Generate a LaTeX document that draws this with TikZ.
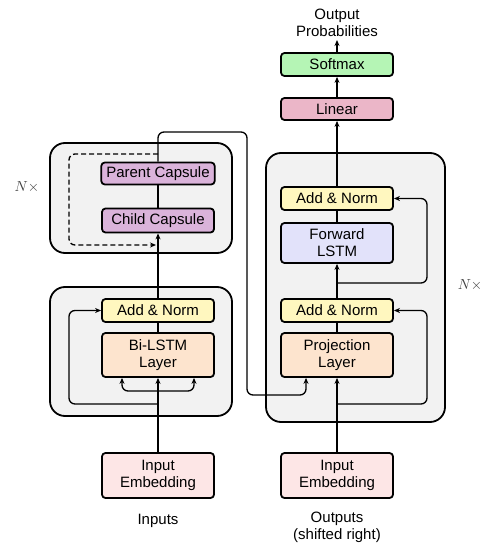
\documentclass[tikz,border=0pt]{standalone}
\usepackage{fontspec}
\setmainfont{Liberation Sans}
\usetikzlibrary{arrows.meta,calc}
\definecolor{blkgray}{HTML}{F2F2F2}
\definecolor{addcol}{HTML}{FFF7BF}
\definecolor{peach}{HTML}{FDE4CE}
\definecolor{lav}{HTML}{E2E2FA}
\definecolor{capcol}{HTML}{DAB3DA}
\definecolor{lincol}{HTML}{EBB6C8}
\definecolor{softcol}{HTML}{B5F5B5}
\definecolor{embcol}{HTML}{FDE6E6}
\tikzset{
  blk/.style={draw=black, line width=1.8pt, fill=blkgray, rounded corners=15pt},
  box/.style={draw=black, line width=1.8pt, rounded corners=3.5pt, minimum width=112pt, inner xsep=5pt, inner ysep=0pt, align=center, font=\fontsize{15}{17}\selectfont},
  conn/.style={line width=1.3pt, rounded corners=6pt},
  arr/.style={conn, -{Stealth[length=6pt,width=5pt]}},
  lbl/.style={align=center, font=\fontsize{15}{17}\selectfont},
  nlbl/.style={scale=1.45, text=black!75},
}
\begin{document}
\begin{tikzpicture}[x=1pt,y=-1pt]
\useasboundingbox (0,0) rectangle (490,548);
% blocks
\node[blk, minimum width=182pt, minimum height=110pt] (capblk) at (141,198) {};
\node[blk, minimum width=182pt, minimum height=129pt] (lblk) at (141,351.5) {};
\node[blk, minimum width=179pt, minimum height=269pt] (rblk) at (355.5,287.5) {};
% left column
\node[box, fill=capcol, minimum height=22pt] (parent) at (158,173.5) {Parent Capsule};
\node[box, fill=capcol, minimum height=24pt] (child) at (158,220.5) {Child Capsule};
\node[box, fill=addcol, minimum height=23pt] (addL) at (158,310.5) {Add \& Norm};
\node[box, fill=peach, minimum height=44pt] (bilstm) at (158,355) {Bi-LSTM\\Layer};
\node[box, fill=embcol, minimum height=45pt] (embL) at (158,475.5) {Input\\Embedding};
\node[lbl] (inL) at (158,521) {Inputs};
% right column
\node[box, fill=softcol, minimum height=23pt] (soft) at (337,64.5) {Softmax};
\node[box, fill=lincol, minimum height=22pt] (lin) at (337,109) {Linear};
\node[box, fill=addcol, minimum height=23pt] (add2) at (337,198.5) {Add \& Norm};
\node[box, fill=lav, minimum height=40pt] (fwd) at (337,243) {Forward\\LSTM};
\node[box, fill=addcol, minimum height=23pt] (add1) at (337,310.5) {Add \& Norm};
\node[box, fill=peach, minimum height=44pt] (proj) at (337,355) {Projection\\Layer};
\node[box, fill=embcol, minimum height=45pt] (embR) at (337,475.5) {Input\\Embedding};
\node[lbl, anchor=south] (outP) at (337,40) {Output\\Probabilities};
\node[lbl] (outS) at (337,527) {Outputs\\(shifted right)};
% N x labels
\node[nlbl] (nl) at (27,187) {$N\times$};
\node[nlbl] (nr) at (470,285) {$N\times$};
% coordinates
\coordinate (lbr) at (158,391);
\coordinate (lres) at (158,404);
\coordinate (topc) at (158,132);
\coordinate (dstart) at (158,154);
\coordinate (dend) at (156,245);
\coordinate (rres1) at (337,404);
\coordinate (rres2) at (337,283);
% left connectors
\draw[arr] (embL.north) -- (bilstm.south);
\draw[conn, {Stealth[length=6pt,width=5pt]}-{Stealth[length=6pt,width=5pt]}] ($(bilstm.south)+(-36,0)$) -- ($(lbr)+(-36,0)$) -- ($(lbr)+(36,0)$) -- ($(bilstm.south)+(36,0)$);
\draw[arr] (lres) -- (69,404) -- (69,310.5) -- (addL.west);
\draw[conn] (bilstm.north) -- (addL.south);
\draw[arr] (addL.north) -- (child.south);
\draw[conn] (child.north) -- (parent.south);
\draw[arr] (parent.north) -- (topc) -- (247,132) -- (247,395) -- (306,395) -- ($(proj.south)+(-31,0)$);
\draw[arr, dashed, dash pattern=on 5pt off 3pt] (dstart) -- (69,154) -- (69,245) -- (dend);
% right connectors
\draw[arr] (embR.north) -- (proj.south);
\draw[conn] (proj.north) -- (add1.south);
\draw[arr] (add1.north) -- (fwd.south);
\draw[conn] (fwd.north) -- (add2.south);
\draw[arr] (add2.north) -- (lin.south);
\draw[arr] (lin.north) -- (soft.south);
\draw[arr] (soft.north) -- (outP.south);
\draw[arr] (rres1) -- (427,404) -- (427,310.5) -- (add1.east);
\draw[arr] (rres2) -- (427,283) -- (427,198.5) -- (add2.east);
\end{tikzpicture}
\end{document}
